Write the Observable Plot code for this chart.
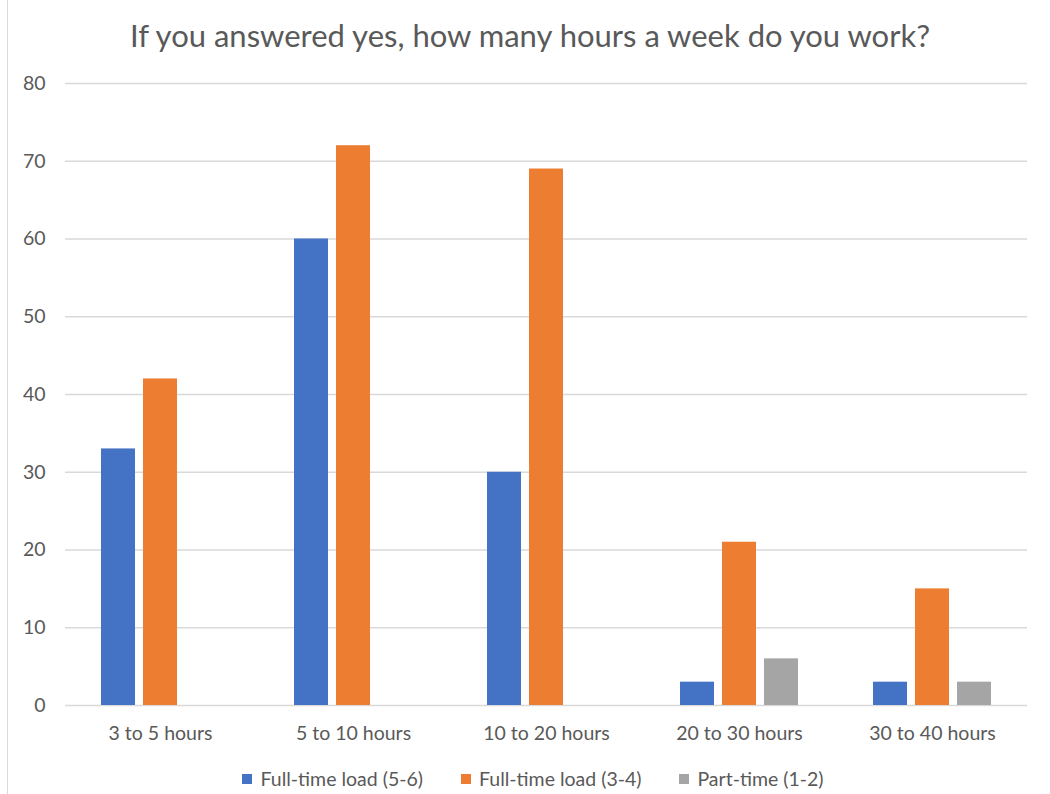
<!DOCTYPE html>
<html><head><meta charset="utf-8">
<script src="https://cdn.jsdelivr.net/npm/d3@7"></script>
<script src="https://cdn.jsdelivr.net/npm/@observablehq/plot@0.6"></script>
<style>
body{margin:0;background:#fff;font-family:Lato,sans-serif;}
#wrap{position:relative;width:1050px;height:794px;overflow:hidden;background:#fff}
#frame{position:absolute;left:7px;top:0;width:1px;height:794px;background:#d9d9d9}
#title{position:absolute;left:0;top:0;width:1060px;height:70px;text-align:center;line-height:70px;font-size:31px;color:#595959}
#grid,#bars{position:absolute;left:0;top:70px}
#legend{position:absolute;top:767px;left:0;width:1066px;display:flex;justify-content:center;align-items:center;font-size:19.5px;color:#595959}
.item{display:flex;align-items:center;margin:0 19px}
.sw{width:10px;height:10px;margin-right:8px}
</style>
</head><body>
<div id="wrap"><div id="frame"></div><div id="title"></div><div id="grid"></div><div id="bars"></div><div id="legend"></div></div>
<script>
const title = "If you answered yes, how many hours a week do you work?";
const categories = ["3 to 5 hours","5 to 10 hours","10 to 20 hours","20 to 30 hours","30 to 40 hours"];
const series = ["Full-time load (5-6)","Full-time load (3-4)","Part-time (1-2)"];
const fullTime56 = [33,60,30,3,3];
const fullTime34 = [42,72,69,21,15];
const partTime12 = [0,0,0,6,3];
const yTicks = [0,10,20,30,40,50,60,70,80];
const colors = ["#4472C4","#ED7D31","#A5A5A5"];

const values = [fullTime56, fullTime34, partTime12];
const rows = categories.flatMap((c,i)=>series.map((s,j)=>({category:c, series:s, value:values[j][i]})));

document.getElementById("title").textContent = title;

const common = {width:1050,height:690,marginTop:13,marginBottom:55,marginLeft:65,marginRight:23,
  style:{fontFamily:"Lato,sans-serif",fontSize:"19.5px",color:"#595959",background:"transparent",overflow:"visible"}};

const grid = Plot.plot({...common,
  y:{domain:[0,80], ticks:yTicks, tickSize:0, tickPadding:20, label:null},
  marks:[Plot.ruleY(yTicks,{stroke:"#d9d9d9",strokeWidth:1.5})]
});
document.getElementById("grid").append(grid);

const bars = Plot.plot({...common,
  y:{domain:[0,80], axis:null},
  fx:{domain:categories, paddingInner:0.38, paddingOuter:0.18, axis:"bottom", tickSize:0, tickPadding:21, label:null},
  x:{domain:series, axis:null, paddingInner:0.19, paddingOuter:0},
  color:{domain:series, range:colors},
  marks:[Plot.barY(rows,{fx:"category", x:"series", y:"value", fill:"series"})]
});
document.getElementById("bars").append(bars);

const color = bars.scale("color");
const leg = document.getElementById("legend");
series.forEach(s=>{
  const it=document.createElement("div");it.className="item";
  const sw=document.createElement("div");sw.className="sw";sw.style.background=color.apply(s);
  const t=document.createElement("span");t.textContent=s;
  it.append(sw,t);leg.append(it);
});
</script>
</body></html>
